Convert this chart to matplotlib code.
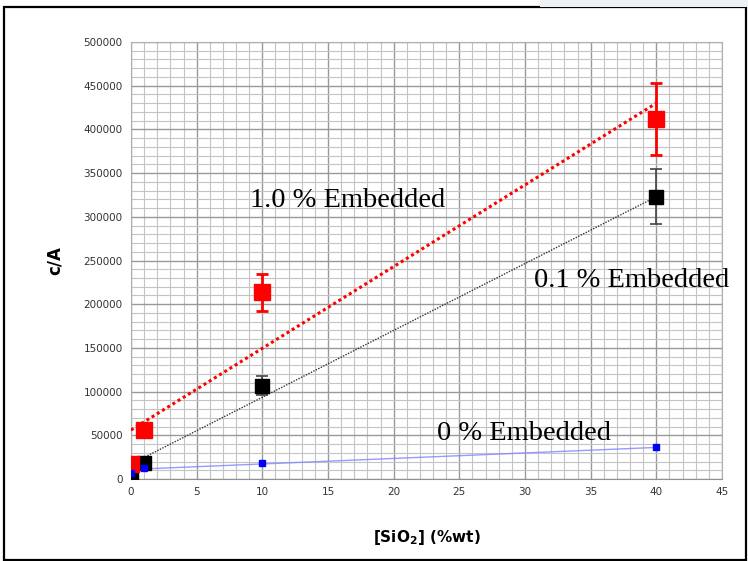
import numpy as np
import matplotlib
matplotlib.use('Agg')
import matplotlib.pyplot as plt
from matplotlib.patches import Rectangle

# SiO2 loading (%wt)
x_vals = [0, 1, 10, 40]

# 1.0 % embedded
red_y = [17000, 56000, 214000, 412000]
red_err_lo = [0, 0, 22000, 41000]
red_err_hi = [0, 0, 20000, 41000]
red_fit = (9350, 56000)   # slope, intercept

# 0.1 % embedded
black_y = [5500, 18000, 106000, 323000]
black_err_lo = [0, 0, 10000, 31000]
black_err_hi = [0, 0, 12000, 32000]
black_fit = (7650, 17000)

# 0 % embedded
blue_y = [7000, 12500, 18000, 37000]
blue_fit = (630, 10900)

fig = plt.figure(figsize=(7.48, 5.61), dpi=100)
ax = fig.add_axes([0.1751, 0.1462, 0.7901, 0.7789])

# figure frame like the screenshot
fig.patches.append(Rectangle((4 / 748, 1 / 561), 742 / 748, 553 / 561,
                             transform=fig.transFigure, fill=False,
                             edgecolor='black', linewidth=1.6))
fig.patches.append(Rectangle((540 / 748, 554 / 561), 208 / 748, 7 / 561,
                             transform=fig.transFigure, facecolor='#eef0f8',
                             edgecolor='none'))

ax.set_xlim(0, 45)
ax.set_ylim(0, 500000)
ax.set_xticks(np.arange(0, 46, 5))
ax.set_yticks(np.arange(0, 500001, 50000))
ax.set_xticks(np.arange(0, 46, 1), minor=True)
ax.set_yticks(np.arange(0, 500001, 10000), minor=True)
ax.grid(which='major', color='#999999', linewidth=1.0)
ax.grid(which='minor', color='#c4c4c4', linewidth=0.8)
ax.set_axisbelow(True)
for s in ax.spines.values():
    s.set_color('#b0b0b0')
ax.spines['bottom'].set_color('#909090')
ax.tick_params(which='both', length=0)
ax.tick_params(axis='both', labelsize=7.5, labelcolor='#333333', pad=6)

# trend lines
xf = np.array([0, 40])
ax.plot(xf, red_fit[0] * xf + red_fit[1], color='red', linestyle=(0, (1, 1)),
        linewidth=2.2, zorder=3)
xf2 = np.array([0.5, 40])
ax.plot(xf2, black_fit[0] * xf2 + black_fit[1], color='#333333',
        linestyle=(0, (1, 1)), linewidth=1.0, zorder=3)
xf3 = np.array([1, 40])
ax.plot(xf3, blue_fit[0] * xf3 + blue_fit[1], color='#8080ff',
        linewidth=1.0, alpha=0.8, zorder=3)

# data with error bars
ax.errorbar(x_vals, red_y, yerr=[red_err_lo, red_err_hi], fmt='s', color='red',
            markersize=11, capsize=4, elinewidth=2, capthick=2, zorder=5)
ax.errorbar(x_vals, black_y, yerr=[black_err_lo, black_err_hi], fmt='s',
            color='black', markersize=10, ecolor='#444444', capsize=4,
            elinewidth=1.2, capthick=1.2, zorder=4)
ax.plot(x_vals, blue_y, 's', color='blue', markersize=5, zorder=6)

# labels
serif = ['Liberation Serif', 'DejaVu Serif']
ax.text(16.5, 319000, '1.0 % Embedded', family=serif, fontsize=20.5,
        ha='center', va='center', clip_on=False)
ax.text(38.1, 227000, '0.1 % Embedded', family=serif, fontsize=20.5,
        ha='center', va='center', clip_on=False)
ax.text(29.9, 51600, '0 % Embedded', family=serif, fontsize=20.5,
        ha='center', va='center', clip_on=False)

ax.set_ylabel('c/A', fontsize=12, fontweight='bold', labelpad=14)
ax.set_xlabel('[SiO$_\\mathbf{2}$] (%wt)', fontsize=11, fontweight='bold',
              labelpad=22)

fig.savefig('out.png', dpi=100)
